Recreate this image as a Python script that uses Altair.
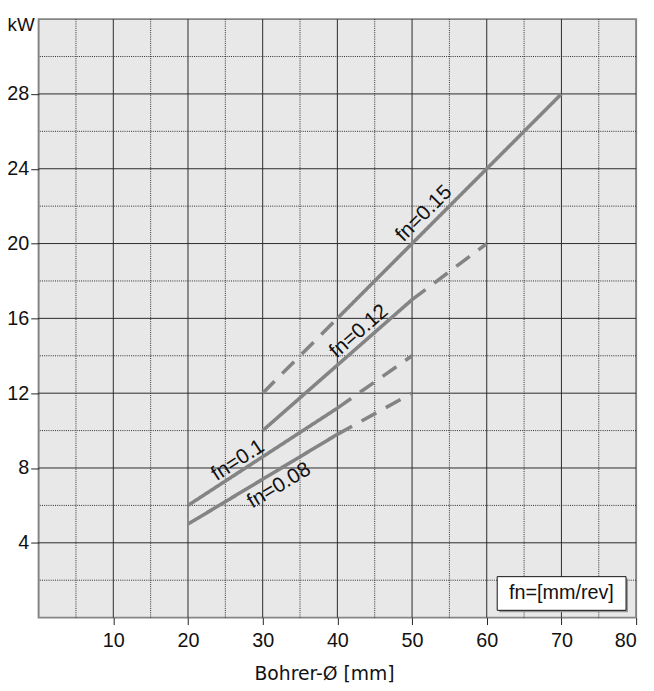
import altair as alt
import pandas as pd

# ---- data ----
series_names = ["fn=0.15", "fn=0.12", "fn=0.1", "fn=0.08"]

# segments: (series, style, x list, y list)
seg_series = ["fn=0.15", "fn=0.15", "fn=0.12", "fn=0.12", "fn=0.1", "fn=0.1", "fn=0.08", "fn=0.08"]
seg_style = ["dashed", "solid", "solid", "dashed", "solid", "dashed", "solid", "dashed"]
seg_x = [
    [30, 40],
    [40, 50, 60, 70],
    [30, 40, 50],
    [50, 60],
    [20, 30, 35, 40],
    [40, 50],
    [20, 30, 40],
    [40, 50],
]
seg_y = [
    [12, 16],
    [16, 20, 24, 28],
    [10, 13.5, 17],
    [17, 20],
    [6, 8.6, 9.9, 11.2],
    [11.2, 14],
    [5, 7.4, 9.8],
    [9.8, 12],
]

label_text = ["fn=0.15", "fn=0.12", "fn=0.1", "fn=0.08"]
label_x = [51.6, 42.9, 26.7, 32.2]
label_y = [21.6, 15.3, 8.4, 7.05]
label_angle = [315, 319, 327, 329]

x_major = [10, 20, 30, 40, 50, 60, 70]
x_minor = [5, 15, 25, 35, 45, 55, 65, 75]
y_major = [4, 8, 12, 16, 20, 24, 28]
y_minor = [2, 6, 10, 14, 18, 22, 26, 30]

x_ticks = [0, 10, 20, 30, 40, 50, 60, 70, 80]
y_ticks = [4, 8, 12, 16, 20, 24, 28]

unit_text = ["kW"]
unit_x = [0]
unit_y = [32]

box_text = ["fn=[mm/rev]"]
box_x1 = [61.4]
box_x2 = [78.65]
box_y1 = [0.39]
box_y2 = [2.19]
box_tx = [70.0]
box_ty = [1.29]

# ---- build tables ----
rows = []
for i, (s, st, xs, ys) in enumerate(zip(seg_series, seg_style, seg_x, seg_y)):
    for j, (xv, yv) in enumerate(zip(xs, ys)):
        rows.append({"seg": i, "series": s, "style": st, "x": xv, "y": yv, "order": j})
lines_df = pd.DataFrame(rows)

labels_df = pd.DataFrame({"text": label_text, "x": label_x, "y": label_y, "angle": label_angle})
unit_df = pd.DataFrame({"text": unit_text, "x": unit_x, "y": unit_y})
box_df = pd.DataFrame({"text": box_text, "x1": box_x1, "x2": box_x2, "y1": box_y1, "y2": box_y2,
                       "tx": box_tx, "ty": box_ty})

FONT = "Liberation Sans"
GRID = "#2a2a2a"
LINE = "#848484"

xscale = alt.Scale(domain=[0, 80], nice=False, zero=False)
yscale = alt.Scale(domain=[0, 32], nice=False, zero=False)

x_axis = alt.Axis(
    values=x_ticks,
    labelExpr="datum.value == 0 ? '' : datum.label",
    title="Bohrer-Ø [mm]",
    titleFont="DejaVu Sans",
    titleFontSize=19,
    titleFontWeight="normal",
    titleColor="#111",
    titleX=289,
    titleY=63,
    titleAlign="center",
    titleBaseline="alphabetic",
    labelFont=FONT,
    labelFontSize=20,
    labelColor="#111",
    labelPadding=6,
    tickSize=7,
    tickColor="#222",
    tickOpacity={"condition": {"test": "datum.value == 0", "value": 0}, "value": 1},
    domain=False,
    grid=False,
)
y_axis = alt.Axis(
    values=y_ticks,
    title=None,
    labelFont=FONT,
    labelFontSize=20,
    labelColor="#111",
    labelPadding=2,
    tickSize=8,
    tickColor="#222",
    domain=False,
    grid=False,
)


def X(field):
    return alt.X(field, type="quantitative", scale=xscale, axis=x_axis)


def Y(field):
    return alt.Y(field, type="quantitative", scale=yscale, axis=y_axis)


vminor = alt.Chart(pd.DataFrame({"v": x_minor})).mark_rule(
    color=GRID, strokeWidth=1, strokeDash=[1, 1.2]
).encode(x=X("v"))
hminor = alt.Chart(pd.DataFrame({"v": y_minor})).mark_rule(
    color=GRID, strokeWidth=1, strokeDash=[1, 1.2]
).encode(y=Y("v"))
vmajor = alt.Chart(pd.DataFrame({"v": x_major})).mark_rule(
    color=GRID, strokeWidth=1
).encode(x=X("v"))
hmajor = alt.Chart(pd.DataFrame({"v": y_major})).mark_rule(
    color=GRID, strokeWidth=1
).encode(y=Y("v"))

lines = alt.Chart(lines_df).mark_line(color=LINE, strokeWidth=3.6).encode(
    x=X("x"),
    y=Y("y"),
    detail="seg:N",
    order="order:Q",
    strokeDash=alt.StrokeDash(
        "style:N",
        scale=alt.Scale(domain=["solid", "dashed"], range=[[1, 0], [17, 11]]),
        legend=None,
    ),
)

labels = alt.Chart(labels_df).mark_text(
    font=FONT, fontSize=21, color="#111", align="center", baseline="middle"
).encode(
    x=X("x"),
    y=Y("y"),
    text="text:N",
    angle=alt.Angle("angle:Q", scale=None),
)

unit = alt.Chart(unit_df).mark_text(
    font=FONT, fontSize=19, color="#111", align="right", baseline="middle", dx=-4, dy=6
).encode(
    x=X("x"),
    y=Y("y"),
    text="text:N",
)

shadow = alt.Chart(box_df).mark_rect(
    fill="#9a9a9a", xOffset=2, x2Offset=2, yOffset=2, y2Offset=2
).encode(
    x=X("x1"), x2="x2:Q",
    y=Y("y1"), y2="y2:Q",
)
box = alt.Chart(box_df).mark_rect(fill="white", stroke="#111", strokeWidth=1).encode(
    x=X("x1"), x2="x2:Q",
    y=Y("y1"), y2="y2:Q",
)
box_label = alt.Chart(box_df).mark_text(
    font=FONT, fontSize=20, color="#111", align="center", baseline="middle"
).encode(
    x=X("tx"),
    y=Y("ty"),
    text="text:N",
)

chart = alt.layer(
    vminor, hminor, vmajor, hmajor, lines, labels, unit, shadow, box, box_label
).properties(
    width=605,
    height=606,
    autosize=alt.AutoSizeParams(type="none"),
    padding={"left": 31, "top": 7, "right": 10, "bottom": 66},
    background="white",
).configure_view(
    fill="#e8e8e8",
    stroke="#858585",
    strokeWidth=2,
)

chart.save("out.html", embed_options={"renderer": "svg", "actions": False})
